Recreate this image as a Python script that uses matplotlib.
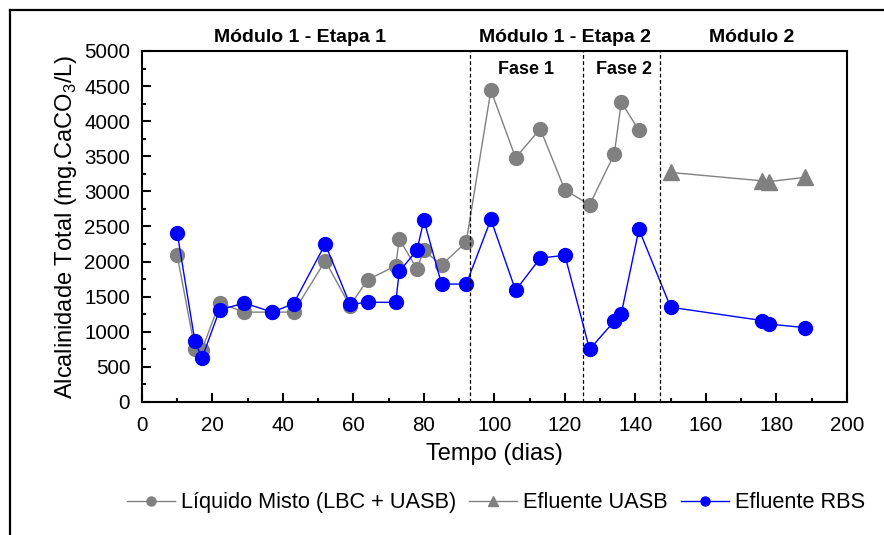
import numpy as np
import matplotlib
matplotlib.use("Agg")
import matplotlib.pyplot as plt
from matplotlib.lines import Line2D

plt.rcParams['font.family'] = ['Liberation Sans', 'DejaVu Sans']
plt.rcParams['mathtext.fontset'] = 'custom'
plt.rcParams['mathtext.rm'] = 'Liberation Sans'

# Liquido misto (LBC + UASB)
dias_lm = [10, 15, 17, 22, 29, 37, 43, 52, 59, 64, 72, 73, 78, 80, 85, 92,
           99, 106, 113, 120, 127, 134, 136, 141]
alc_lm = [2090, 760, 740, 1410, 1280, 1280, 1280, 2010, 1370, 1740, 1940, 2320,
          1900, 2160, 1950, 2280, 4440, 3480, 3890, 3020, 2810, 3530, 4270, 3870]

# Efluente UASB
dias_uasb = [150, 176, 178, 188]
alc_uasb = [3270, 3150, 3140, 3200]

# Efluente RBS
dias_rbs = [10, 15, 17, 22, 29, 37, 43, 52, 59, 64, 72, 73, 78, 80, 85, 92,
            99, 106, 113, 120, 127, 134, 136, 141, 150, 176, 178, 188]
alc_rbs = [2410, 870, 620, 1310, 1410, 1280, 1400, 2250, 1390, 1420, 1420, 1860,
           2160, 2590, 1680, 1680, 2600, 1590, 2050, 2090, 750, 1150, 1260, 2460,
           1350, 1160, 1110, 1060]

divisoes = [93, 125, 147]
etapas = ["Módulo 1 - Etapa 1", "Módulo 1 - Etapa 2", "Módulo 2"]
etapas_x = [44.7, 120, 173]
fases = ["Fase 1", "Fase 2"]
fases_x = [109, 136.8]

cinza = "#808080"
azul = "#0000ff"

fig = plt.figure(figsize=(8.84, 5.35), dpi=100)
ax = fig.add_axes([0.1606, 0.2486, 0.7974, 0.6561])

ax.plot(dias_lm, alc_lm, color=cinza, lw=1, marker='o', ms=10, mec=cinza, mfc=cinza)
ax.plot(dias_uasb, alc_uasb, color=cinza, lw=1, marker='^', ms=11.5, mec=cinza, mfc=cinza)
ax.plot(dias_rbs, alc_rbs, color=azul, lw=1, marker='o', ms=10, mec=azul, mfc=azul)

for d in divisoes:
    ax.axvline(d, color='black', lw=0.9, ls=(0, (3, 2)))

for s, x in zip(etapas, etapas_x):
    ax.text(x, 1.037, s, transform=ax.get_xaxis_transform(), ha='center', va='center',
            fontsize=14, fontweight='bold')
for s, x in zip(fases, fases_x):
    ax.text(x, 0.947, s, transform=ax.get_xaxis_transform(), ha='center', va='center',
            fontsize=13, fontweight='bold')

ax.set_xlim(0, 200)
ax.set_ylim(0, 5000)
ax.set_xticks(np.arange(0, 201, 20))
ax.set_xticks(np.arange(0, 201, 10), minor=True)
ax.set_yticks(np.arange(0, 5001, 500))
ax.set_yticks(np.arange(0, 5001, 250), minor=True)
ax.tick_params(which='both', direction='in', width=1.5, labelsize=14.8)
ax.tick_params(which='major', length=6.5)
ax.tick_params(which='minor', length=3.2)
ax.tick_params(axis='x', pad=10)
ax.tick_params(axis='y', pad=8.5)
for sp in ax.spines.values():
    sp.set_linewidth(1.5)

ax.set_xlabel("Tempo (dias)", fontsize=17, labelpad=6)
ax.set_ylabel("Alcalinidade Total (mg.CaCO$_3$/L)", fontsize=17, labelpad=4)

handles = [
    Line2D([], [], color=cinza, lw=1, marker='o', ms=6.5, mfc=cinza, mec=cinza),
    Line2D([], [], color=cinza, lw=1, marker='^', ms=7.5, mfc=cinza, mec=cinza),
    Line2D([], [], color=azul, lw=1, marker='o', ms=6.5, mfc=azul, mec=azul),
]
labels = ["Líquido Misto (LBC + UASB)", "Efluente UASB", "Efluente RBS"]
fig.legend(handles, labels, loc='center', bbox_to_anchor=(0.561, 0.06), ncol=3,
           frameon=False, fontsize=15.7, handlelength=2.2, handletextpad=0.27,
           columnspacing=0.6)

# moldura parcial da figura
fig.add_artist(Line2D([10 / 884, 10 / 884], [0, 1 - 10 / 535], color='black', lw=1.6,
                      transform=fig.transFigure))
fig.add_artist(Line2D([10 / 884, 1], [1 - 10 / 535, 1 - 10 / 535], color='black', lw=1.6,
                      transform=fig.transFigure))

fig.savefig("out.png", dpi=100)
